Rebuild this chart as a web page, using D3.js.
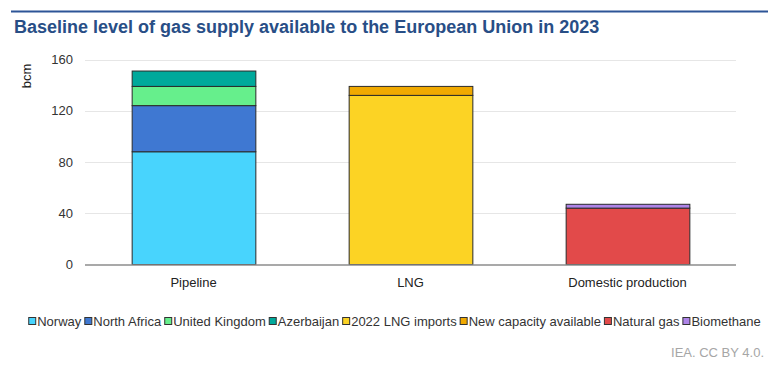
<!DOCTYPE html>
<html>
<head>
<meta charset="utf-8">
<script src="https://cdn.jsdelivr.net/npm/d3@7"></script>
<style>
  body { margin: 0; background: #fff; }
  svg { display: block; font-family: "Liberation Sans", Arial, sans-serif; }
</style>
</head>
<body>
<div id="chart"></div>
<script>
// Data
const categories = ['Pipeline', 'LNG', 'Domestic production'];
const seriesNames = ['Norway', 'North Africa', 'United Kingdom', 'Azerbaijan',
    '2022 LNG imports', 'New capacity available', 'Natural gas', 'Biomethane'];
const seriesColors = ['#48d4fd', '#3f78d2', '#66ef8c', '#00a99b',
    '#fcd324', '#f0a900', '#e24a4a', '#ae84e8'];
// values per series, in category order
const norway = [88, 0, 0];
const northAfrica = [36, 0, 0];
const unitedKingdom = [15, 0, 0];
const azerbaijan = [12, 0, 0];
const lngImports2022 = [0, 132, 0];
const newCapacity = [0, 7, 0];
const naturalGas = [0, 0, 44];
const biomethane = [0, 0, 3];
const yTicks = [0, 40, 80, 120, 160];

const seriesValues = [norway, northAfrica, unitedKingdom, azerbaijan,
    lngImports2022, newCapacity, naturalGas, biomethane];

const width = 773, height = 367;
const margin = { top: 59.5, right: 37, bottom: 102.5, left: 85 };

const svg = d3.select('#chart').append('svg')
    .attr('width', width)
    .attr('height', height);

// Header rule + title
svg.append('line')
    .attr('x1', 11).attr('x2', 768)
    .attr('y1', 11.5).attr('y2', 11.5)
    .style('stroke', '#2d5597')
    .style('stroke-width', 2);

svg.append('text')
    .attr('x', 14).attr('y', 33)
    .text('Baseline level of gas supply available to the European Union in 2023')
    .style('font-size', '18px')
    .style('font-weight', 'bold')
    .style('fill', '#284e86');

// Scales
const x = d3.scaleBand()
    .domain(categories)
    .range([margin.left, width - margin.right])
    .paddingInner(0.43)
    .paddingOuter(0.215);

const y = d3.scaleLinear()
    .domain([0, 160])
    .range([height - margin.bottom, margin.top]);

// Gridlines
svg.append('g')
    .selectAll('line')
    .data(yTicks.filter(d => d > 0))
    .enter()
    .append('line')
    .attr('x1', margin.left)
    .attr('x2', width - margin.right)
    .attr('y1', d => Math.round(y(d)) + 0.5)
    .attr('y2', d => Math.round(y(d)) + 0.5)
    .style('stroke', '#e6e6e6')
    .style('stroke-width', 1);

// Y axis labels
const yAxis = svg.append('g')
    .attr('transform', `translate(${margin.left},0)`)
    .call(d3.axisLeft(y).tickValues(yTicks).tickSize(0).tickPadding(12));
yAxis.select('.domain').remove();
yAxis.selectAll('text')
    .style('font-size', '13px')
    .style('fill', '#333')
    .style('font-family', '"Liberation Sans", Arial, sans-serif');

svg.append('text')
    .attr('transform', 'translate(31,76) rotate(-90)')
    .attr('text-anchor', 'middle')
    .text('bcm')
    .style('font-size', '13px')
    .style('fill', '#222');

// Stacked bars
const stackData = categories.map((c, i) => {
    const row = { category: c };
    seriesNames.forEach((s, j) => { row[s] = seriesValues[j][i]; });
    return row;
});
const stacked = d3.stack().keys(seriesNames)(stackData);

svg.append('g')
    .selectAll('g')
    .data(stacked)
    .enter()
    .append('g')
    .style('fill', (d, i) => seriesColors[i])
    .selectAll('rect')
    .data(d => d.filter(p => p[1] - p[0] > 0))
    .enter()
    .append('rect')
    .attr('x', d => x(d.data.category) + 0.5)
    .attr('width', x.bandwidth())
    .attr('y', d => y(d[1]))
    .attr('height', d => y(d[0]) - y(d[1]))
    .style('stroke', '#2a2a2a')
    .style('stroke-width', 1);

// Baseline
svg.append('line')
    .attr('x1', margin.left)
    .attr('x2', width - margin.right)
    .attr('y1', y(0) + 0.5)
    .attr('y2', y(0) + 0.5)
    .style('stroke', '#8c8c8c')
    .style('stroke-width', 1.5);

// X axis labels
const xAxis = svg.append('g')
    .attr('transform', `translate(0,${y(0)})`)
    .call(d3.axisBottom(x).tickSize(0).tickPadding(13));
xAxis.select('.domain').remove();
xAxis.selectAll('text')
    .style('font-size', '13px')
    .style('fill', '#222')
    .style('font-family', '"Liberation Sans", Arial, sans-serif');

// Legend
const legend = svg.append('g');
let lx = 0;
seriesNames.forEach((name, i) => {
    const item = legend.append('g').attr('transform', `translate(${lx},0)`);
    item.append('rect')
        .attr('x', 0.5).attr('y', -8.5)
        .attr('width', 7).attr('height', 7)
        .style('fill', seriesColors[i])
        .style('stroke', '#333')
        .style('stroke-width', 1);
    const t = item.append('text')
        .attr('x', 9).attr('y', 0)
        .text(name)
        .style('font-size', '13px')
        .style('fill', '#333');
    lx += 9 + t.node().getComputedTextLength() + 3;
});
const legendWidth = lx - 3;
legend.attr('transform', `translate(${394.5 - legendWidth / 2},326)`);

// Source
svg.append('text')
    .attr('x', 764).attr('y', 357)
    .attr('text-anchor', 'end')
    .text('IEA. CC BY 4.0.')
    .style('font-size', '13px')
    .style('fill', '#a6a6a6');
</script>
</body>
</html>
